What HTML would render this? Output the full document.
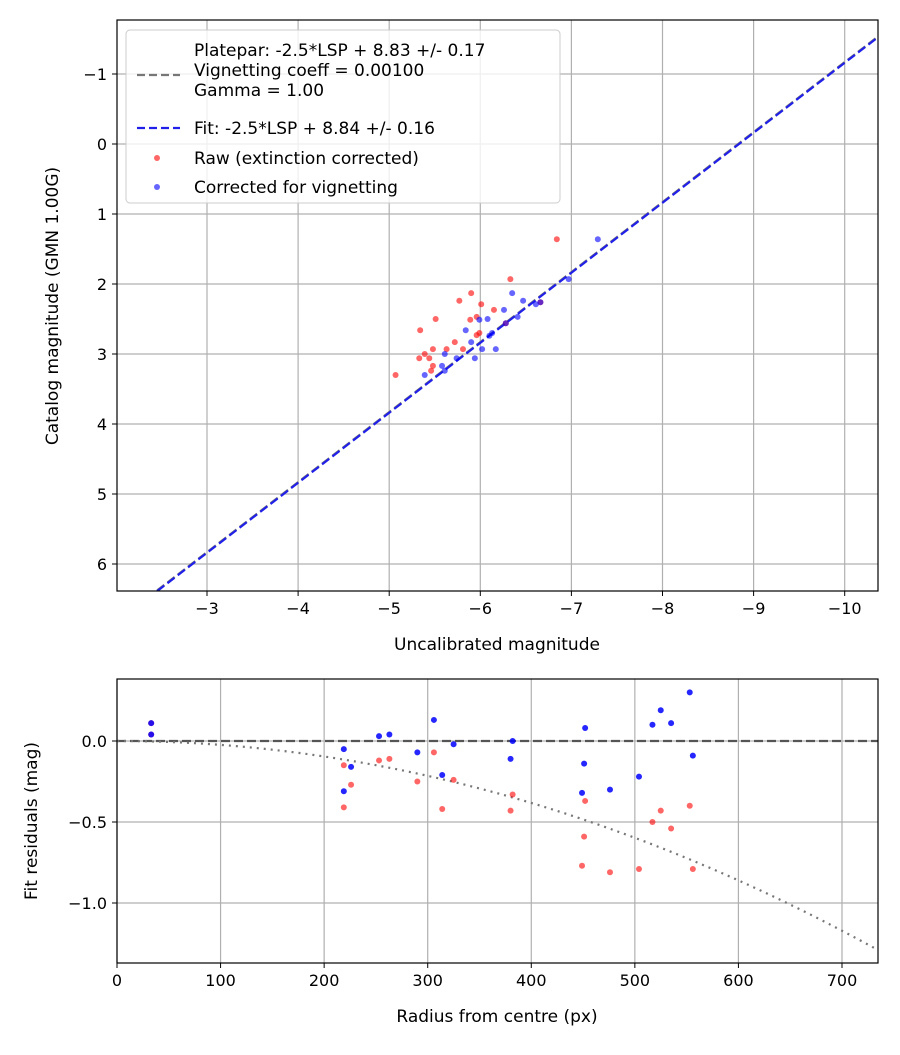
<!DOCTYPE html>
<html><head><meta charset="utf-8"><style>
body{margin:0;background:#fff}
svg{font-family:"DejaVu Sans","Liberation Sans",sans-serif;}
</style></head><body>
<svg id="s" width="900" height="1050" xmlns="http://www.w3.org/2000/svg">
<rect width="900" height="1050" fill="#fff"/>
<defs><clipPath id="ct"><rect x="117" y="20" width="761" height="571"/></clipPath></defs>
<g id="topplot"></g>
<g id="botplot"></g>
</svg>
<script>
const topXTicks=[-3,-4,-5,-6,-7,-8,-9,-10];
const topYTicks=[-1,0,1,2,3,4,5,6];
const rawX=[-6.84,-6.33,-5.90,-5.77,-6.01,-6.15,-5.51,-5.96,-5.89,-5.34,-5.96,-5.99,-5.72,-5.48,-5.63,-5.81,-5.39,-5.33,-5.44,-5.48,-5.46,-5.07,-6.66,-6.28];
const rawY=[1.36,1.93,2.13,2.24,2.29,2.37,2.50,2.47,2.51,2.66,2.73,2.70,2.83,2.93,2.93,2.93,3.00,3.06,3.06,3.17,3.24,3.30,2.26,2.56];
const corX=[-7.29,-6.97,-6.35,-6.47,-6.61,-6.26,-6.41,-5.99,-6.08,-5.84,-6.13,-6.10,-5.90,-6.02,-6.17,-5.94,-5.61,-5.74,-5.58,-5.61,-5.39,-6.66,-6.28];
const corY=[1.36,1.93,2.13,2.24,2.29,2.37,2.47,2.51,2.50,2.66,2.70,2.74,2.83,2.93,2.93,3.06,3.00,3.06,3.17,3.24,3.30,2.26,2.56];
const fitOffset=[8.84];
const plateOffset=[8.83];
const botXTicks=[0,100,200,300,400,500,600,700];
const botYTicks=[0.0,-0.5,-1.0];
const resR=[33,33,219,219,226,253,263,290,306,314,325,380,382,449,451,452,476,504,517,525,535,553,556];
const resRaw=[0.11,0.04,-0.15,-0.41,-0.27,-0.12,-0.11,-0.25,-0.07,-0.42,-0.24,-0.43,-0.33,-0.77,-0.59,-0.37,-0.81,-0.79,-0.50,-0.43,-0.54,-0.40,-0.79];
const resCor=[0.11,0.04,-0.05,-0.31,-0.16,0.03,0.04,-0.07,0.13,-0.21,-0.02,-0.11,0.00,-0.32,-0.14,0.08,-0.30,-0.22,0.10,0.19,0.11,0.30,-0.09];
const vigCoeff=[2.39e-6];

const NS='http://www.w3.org/2000/svg';
function mk(parent,tag,attrs,text){const e=document.createElementNS(NS,tag);for(const k in attrs)e.setAttribute(k,attrs[k]);if(text!==undefined)e.textContent=text;parent.appendChild(e);return e;}

const T={l:117,r:878,t:20,b:591};
const tx=v=>207+(-v-3)*91.1;
const ty=v=>144+v*70;
const topG=document.getElementById('topplot');
topXTicks.forEach(v=>{
 const g=mk(topG,'line',{x1:tx(v),x2:tx(v),y1:T.t,y2:T.b,stroke:'#b0b0b0','stroke-width':1.2});
 
 
 mk(topG,'line',{x1:tx(v),x2:tx(v),y1:T.b,y2:T.b+5,stroke:'#000'});
 const t=mk(topG,'text',{x:tx(v),y:T.b+23,'text-anchor':'middle','font-size':16},'\u2212'+Math.abs(v));
 
 
});
topYTicks.forEach(v=>{
 const g=mk(topG,'line',{x1:T.l,x2:T.r,y1:ty(v),y2:ty(v),stroke:'#b0b0b0','stroke-width':1.2});
 
 
 mk(topG,'line',{x1:T.l-5,x2:T.l,y1:ty(v),y2:ty(v),stroke:'#000'});
 const t=mk(topG,'text',{x:T.l-10,y:ty(v)+6,'text-anchor':'end','font-size':16},v<0?'\u2212'+Math.abs(v):String(v));
 
 
});
const lx1=-2,lx2=-10.6;
const pl=mk(topG,'line',{x1:tx(lx1),y1:ty(lx1+plateOffset[0]),x2:tx(lx2),y2:ty(lx2+plateOffset[0]),stroke:'#777','stroke-width':2.2,'stroke-dasharray':'9,4','clip-path':'url(#ct)'});


const fl=mk(topG,'line',{x1:tx(lx1),y1:ty(lx1+fitOffset[0]),x2:tx(lx2),y2:ty(lx2+fitOffset[0]),stroke:'#2020e8','stroke-width':2.2,'stroke-dasharray':'9,4','clip-path':'url(#ct)'});


rawX.forEach((x,i)=>{const c=mk(topG,'circle',{cx:tx(x),cy:ty(rawY[i]),r:3,fill:'rgba(255,0,0,0.6)'});
 
 });
corX.forEach((x,i)=>{const c=mk(topG,'circle',{cx:tx(x),cy:ty(corY[i]),r:3,fill:'rgba(0,0,255,0.6)'});
 
 });
mk(topG,'rect',{x:T.l,y:T.t,width:T.r-T.l,height:T.b-T.t,fill:'none',stroke:'#000','stroke-width':1.2});
const xt=mk(topG,'text',{x:497,y:650,'text-anchor':'middle','font-size':17},'Uncalibrated magnitude');


const yt=mk(topG,'text',{x:58,y:306,'text-anchor':'middle','font-size':17,transform:'rotate(-90 58 306)'},'Catalog magnitude (GMN 1.00G)');


const lg=mk(topG,'g',{});


mk(lg,'rect',{x:126,y:30,width:434,height:173,rx:4,fill:'rgba(255,255,255,0.8)',stroke:'#ccc'});
mk(lg,'line',{x1:137,x2:180,y1:75,y2:75,stroke:'#777','stroke-width':2.2,'stroke-dasharray':'8,4'});
['Platepar: -2.5*LSP + 8.83 +/- 0.17','Vignetting coeff = 0.00100','Gamma = 1.00'].forEach((s,i)=>mk(lg,'text',{x:194,y:56+i*20,'font-size':17},s));
mk(lg,'line',{x1:137,x2:180,y1:128,y2:128,stroke:'#2020e8','stroke-width':2.2,'stroke-dasharray':'8,4'});
mk(lg,'text',{x:194,y:134,'font-size':17},'Fit: -2.5*LSP + 8.84 +/- 0.16');
mk(lg,'circle',{cx:157,cy:158,r:3,fill:'rgba(255,0,0,0.6)'});
mk(lg,'text',{x:194,y:164,'font-size':17},'Raw (extinction corrected)');
mk(lg,'circle',{cx:157,cy:187,r:3,fill:'rgba(0,0,255,0.6)'});
mk(lg,'text',{x:194,y:193,'font-size':17},'Corrected for vignetting');

const B={l:117,r:878,t:679,b:963};
const bx=v=>117+v*1.0357;
const by=v=>741-v*162;
const botG=document.getElementById('botplot');
botXTicks.forEach(v=>{
 const g=mk(botG,'line',{x1:bx(v),x2:bx(v),y1:B.t,y2:B.b,stroke:'#b0b0b0','stroke-width':1.2});
 
 
 mk(botG,'line',{x1:bx(v),x2:bx(v),y1:B.b,y2:B.b+5,stroke:'#000'});
 const t=mk(botG,'text',{x:bx(v),y:B.b+23,'text-anchor':'middle','font-size':16},String(v));
 
 
});
botYTicks.forEach(v=>{
 const g=mk(botG,'line',{x1:B.l,x2:B.r,y1:by(v),y2:by(v),stroke:'#b0b0b0','stroke-width':1.2});
 
 
 mk(botG,'line',{x1:B.l-5,x2:B.l,y1:by(v),y2:by(v),stroke:'#000'});
 const t=mk(botG,'text',{x:B.l-10,y:by(v)+6,'text-anchor':'end','font-size':16},(v<0?'\u2212':'')+Math.abs(v).toFixed(1));
 
 
});
const zl=mk(botG,'line',{x1:B.l,x2:B.r,y1:by(0),y2:by(0),stroke:'#555','stroke-width':2.2,'stroke-dasharray':'9,4'});


let d='';for(let r=0;r<=735;r+=5){d+=(r?'L':'M')+bx(r)+','+by(-vigCoeff[0]*r*r);}
const vc=mk(botG,'path',{d:d,fill:'none',stroke:'#777','stroke-width':2.2,'stroke-dasharray':'2,5'});


resR.forEach((r,i)=>{const c=mk(botG,'circle',{cx:bx(r),cy:by(resRaw[i]),r:3,fill:'rgba(255,0,0,0.6)'});
 
 });
resR.forEach((r,i)=>{const c=mk(botG,'circle',{cx:bx(r),cy:by(resCor[i]),r:3,fill:'rgba(0,0,255,0.85)'});
 
 });
mk(botG,'rect',{x:B.l,y:B.t,width:B.r-B.l,height:B.b-B.t,fill:'none',stroke:'#000','stroke-width':1.2});
const bxt=mk(botG,'text',{x:497,y:1022,'text-anchor':'middle','font-size':17},'Radius from centre (px)');


const byt=mk(botG,'text',{x:37,y:821,'text-anchor':'middle','font-size':17,transform:'rotate(-90 37 821)'},'Fit residuals (mag)');


</script>
</body></html>
